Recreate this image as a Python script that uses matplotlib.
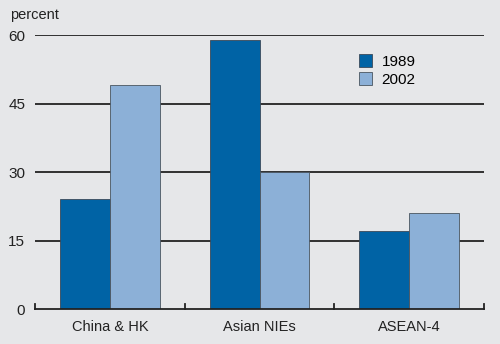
import matplotlib
matplotlib.use("Agg")
import matplotlib.pyplot as plt
import numpy as np

categories = ["China & HK", "Asian NIEs", "ASEAN-4"]
series_names = ["1989", "2002"]
vals_1989 = [24, 59, 17]
vals_2002 = [49, 30, 21]
yticks = [0, 15, 30, 45, 60]

BG = "#e6e7e9"
C1989, C2002 = "#0063a5", "#8cb0d7"

plt.rcParams.update({"font.family": "Liberation Sans", "font.size": 10.5})

fig = plt.figure(figsize=(5.0, 3.44), dpi=100, facecolor=BG)
ax = fig.add_axes([0.07, 0.1017, 0.898, 0.7965], facecolor=BG)

x = np.arange(len(categories))
w = 1 / 3
ax.bar(x - w / 2, vals_1989, width=w, color=C1989, edgecolor="#3a4a5a", linewidth=0.6,
       label=series_names[0], zorder=3)
ax.bar(x + w / 2, vals_2002, width=w, color=C2002, edgecolor="#4a5560", linewidth=0.6,
       label=series_names[1], zorder=3)

ax.set_xlim(-0.5, len(categories) - 0.5)
ax.set_ylim(0, 60)
for y in yticks[1:]:
    ax.axhline(y, color="#222222", lw=1.3, zorder=1)

for s in ["top", "right", "left"]:
    ax.spines[s].set_visible(False)
ax.spines["bottom"].set_color("#222222")
ax.spines["bottom"].set_linewidth(1.3)
ax.spines["bottom"].set_zorder(4)

ax.set_yticks(yticks)
ax.set_yticklabels([str(v) for v in yticks], fontsize=11, color="#222222")
ax.tick_params(axis="y", length=0, pad=7)
ax.set_xticks(x)
ax.set_xticklabels(categories, fontsize=10.5, color="#222222")
ax.tick_params(axis="x", length=0, pad=8)
# upward ticks at category boundaries
for b in np.arange(-0.5, len(categories), 1.0):
    ax.plot([b, b], [0, 1.1], color="#222222", lw=1.3, zorder=4, clip_on=False)

fig.text(0.02, 0.955, "percent", fontsize=10.5, color="#222222", va="center")

ax.legend(loc="upper left", bbox_to_anchor=(0.69, 0.98), frameon=False, fontsize=11,
          handlelength=0.9, handleheight=0.9, handletextpad=0.6, labelspacing=0.2)

fig.savefig("out.png", dpi=100, facecolor=BG)
